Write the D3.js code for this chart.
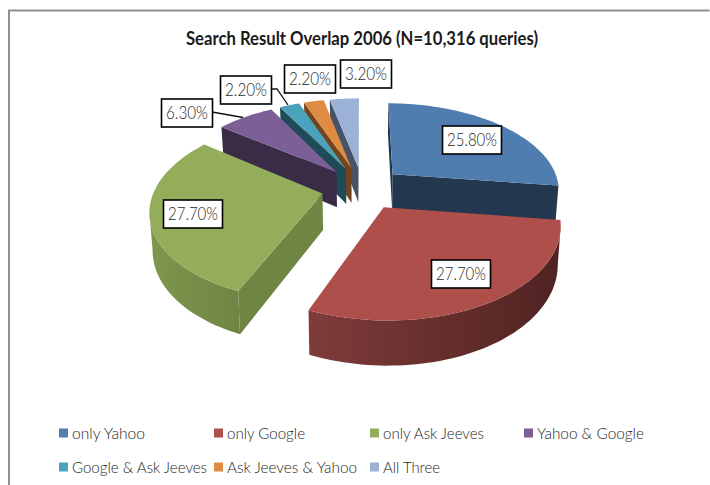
<!DOCTYPE html>
<html>
<head>
<meta charset="utf-8">
<script src="https://cdn.jsdelivr.net/npm/d3@7/dist/d3.min.js"></script>
<style>
  html, body { margin: 0; padding: 0; background: #fff; }
  svg { display: block; }
  text { font-family: Lato, "Open Sans", sans-serif; fill: #262626; }
</style>
</head>
<body>
<svg id="chart" width="710" height="485"></svg>
<script>
// Survey figures
const chartTitle = "Search Result Overlap 2006 (N=10,316 queries)";
const categories = ["only Yahoo", "only Google", "only Ask Jeeves", "Yahoo & Google",
                    "Google & Ask Jeeves", "Ask Jeeves & Yahoo", "All Three"];
const shares = [25.8, 27.7, 27.7, 6.3, 2.2, 2.2, 3.2];

// Face, wall and rim shades per slice
const topColors  = ["#4f7db0", "#ae4f4c", "#94ad5a", "#7d5f98", "#4aa3bb", "#de8c44", "#9bb1d6"];
const wallColors = ["#23384f", "#4f2322", "#6f8543", "#3a2c47", "#1f4a57", "#75431c", "#465266"];
const rimColors  = ["#2b4560", "#7f3c3a", "#7f964c", "#3a2c47", "#1f4a57", "#75431c", "#465266"];

// Label box centres and legend cells
const labelCenters = [[472, 140], [461, 274], [193, 214], [187, 113], [246, 90], [310, 79], [366, 74]];
const legendCells = [[59, 433, 145], [214, 433, 305], [370, 433, 484], [524, 433, 644],
                     [59, 467, 207], [214, 467, 357], [370, 467, 440]];

const svg = d3.select("#chart");
const defs = svg.append("defs");

// Chart frame: only the top and left rules fall inside the window
svg.append("path")
  .attr("d", "M709.5,10.5H9V485")
  .attr("fill", "none").attr("stroke", "#8f8f8f").attr("stroke-width", 2);

svg.append("text")
  .attr("x", 362).attr("y", 45).attr("text-anchor", "middle")
  .attr("font-size", 18).attr("font-weight", 700)
  .attr("textLength", 352).attr("lengthAdjust", "spacingAndGlyphs")
  .style("fill", "#1a1a1a")
  .text(chartTitle);

// Perspective projection of the pie plane: X to the right, Y toward the viewer
const cx = 362.5, cy = 188, tilt = 0.52, viewDist = 1000;
const radius = 167.5, explode = 41, depth = 36;

function project(X, Y, lowered) {
  const s = viewDist / (viewDist - Y);
  const shrink = lowered ? 0.985 : 1;
  return [cx + X * s * shrink, cy + (Y * tilt + (lowered ? depth : 0)) * s];
}

const arcs = d3.pie().sort(null).value(d => d)(shares);
const line = d3.line();

const slices = arcs.map((a, i) => {
  const mid = (a.startAngle + a.endAngle) / 2;
  const ox = explode * Math.sin(mid), oy = -explode * Math.cos(mid);
  const steps = Math.max(3, Math.ceil((a.endAngle - a.startAngle) / 0.03));
  const plane = [[ox, oy]];
  d3.range(steps + 1).forEach(k => {
    const t = a.startAngle + (a.endAngle - a.startAngle) * k / steps;
    plane.push([ox + radius * Math.sin(t), oy - radius * Math.cos(t)]);
  });
  return { i, oy, plane };
});

// Paint the far slices first so the nearer ones overlap them
const order = slices.slice().sort((a, b) => a.oy - b.oy);

order.forEach(sl => {
  const g = svg.append("g");
  const top = sl.plane.map(p => project(p[0], p[1], false));
  const low = sl.plane.map(p => project(p[0], p[1], true));
  const n = top.length;

  // Straight walls run from the apex; leftward travel in clockwise order faces the viewer
  [[0, 1], [n - 1, 0]].forEach(([k, j]) => {
    if (top[j][0] >= top[k][0]) return;
    g.append("path")
      .attr("d", line([top[k], top[j], low[j], low[k]]) + "Z")
      .attr("fill", wallColors[sl.i]);
  });

  // Curved rim: the visible run of the outer arc, shaded across its width
  const rimIdx = d3.range(1, n - 1).filter(k => top[k + 1][0] < top[k][0]);
  if (rimIdx.length) {
    const ids = [rimIdx[0], ...rimIdx.map(k => k + 1)];
    const upper = ids.map(k => top[k]);
    const lower = ids.map(k => low[k]).reverse();
    const gradId = "rim" + sl.i;
    const [x0, x1] = d3.extent(upper, p => p[0]);
    const grad = defs.append("linearGradient").attr("id", gradId)
      .attr("gradientUnits", "userSpaceOnUse")
      .attr("x1", x0).attr("x2", x1).attr("y1", 0).attr("y2", 0);
    grad.append("stop").attr("offset", 0).attr("stop-color", rimColors[sl.i]);
    grad.append("stop").attr("offset", 1).attr("stop-color", wallColors[sl.i]);
    g.append("path")
      .attr("d", line(upper.concat(lower)) + "Z")
      .attr("fill", `url(#${gradId})`);
  }

  g.append("path")
    .attr("d", line(top) + "Z")
    .attr("fill", topColors[sl.i]);
});

// Leader lines for the two outer labels that sit away from their slices
const leaderAnchors = { 3: [[212, 112], [243, 117.5]], 4: [[271, 89], [277, 89], [288, 105]] };
Object.values(leaderAnchors).forEach(pts => {
  svg.append("path").attr("d", line(pts))
    .attr("fill", "none").attr("stroke", "#111").attr("stroke-width", 1.3);
});

// Value labels
const boxH = 28;
shares.forEach((v, i) => {
  const label = v.toFixed(2) + "%";
  const [x, y] = labelCenters[i];
  const wide = v >= 10;
  const boxW = wide ? 59 : 51;
  const g = svg.append("g");
  g.append("rect")
    .attr("x", x - boxW / 2).attr("y", y - boxH / 2)
    .attr("width", boxW).attr("height", boxH)
    .attr("fill", "#fff").attr("stroke", "#000").attr("stroke-width", 1.6);
  g.append("text")
    .attr("x", x).attr("y", y + 6).attr("text-anchor", "middle")
    .attr("font-size", 17).attr("font-weight", 300)
    .attr("textLength", wide ? 50 : 42).attr("lengthAdjust", "spacingAndGlyphs")
    .text(label);
});

// Legend
categories.forEach((name, i) => {
  const [x, y, end] = legendCells[i];
  svg.append("rect")
    .attr("x", x).attr("y", y - 4.5).attr("width", 9).attr("height", 9)
    .attr("fill", topColors[i]);
  svg.append("text")
    .attr("x", x + 13).attr("y", y + 6)
    .attr("font-size", 16.5).attr("font-weight", 300)
    .attr("textLength", end - x - 13).attr("lengthAdjust", "spacingAndGlyphs")
    .text(name);
});
</script>
</body>
</html>
